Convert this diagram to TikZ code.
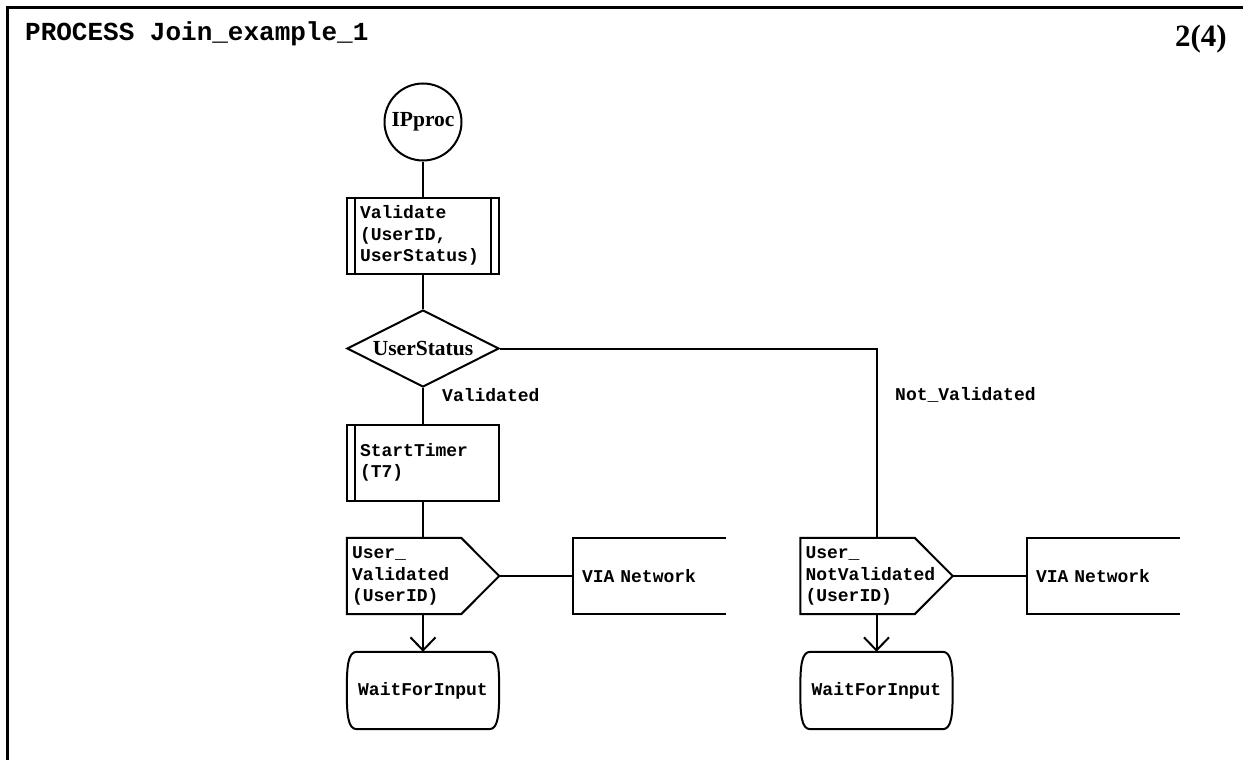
\documentclass[tikz,border=0pt]{standalone}
\usepackage{fontspec}
\setmonofont{Liberation Mono}
\newfontfamily\symserif{Liberation Serif}
\usetikzlibrary{shapes.geometric,arrows.meta,calc}

% Outline of an SDL output (send signal) symbol: body plus pointed east side
\newcommand\sdloutput[1]{%
  \draw[sdl] (#1.north west) -- ($(#1.north east)+(-38pt,0)$) -- (#1.east)
    -- ($(#1.south east)+(-38pt,0)$) -- (#1.south west) -- cycle;}
% Open-ended box for the signal destination (no right side)
\newcommand\sdlvia[1]{%
  \draw[sdl] (#1.north east) -- (#1.north west) -- (#1.south west) -- (#1.south east);}
% SDL state symbol: straight top/bottom, bowed sides
\newcommand\sdlstate[1]{%
  \draw[sdl] ($(#1.north west)+(10pt,0)$) -- ($(#1.north east)+(-10pt,0)$)
    .. controls ($(#1.north east)+(-1pt,0)$) and ($(#1.east)+(0,24pt)$) .. (#1.east)
    .. controls ($(#1.east)+(0,-24pt)$) and ($(#1.south east)+(-1pt,0)$) .. ($(#1.south east)+(-10pt,0)$)
    -- ($(#1.south west)+(10pt,0)$)
    .. controls ($(#1.south west)+(1pt,0)$) and ($(#1.west)+(0,-24pt)$) .. (#1.west)
    .. controls ($(#1.west)+(0,24pt)$) and ($(#1.north west)+(1pt,0)$) .. ($(#1.north west)+(10pt,0)$);}

\tikzset{
  sdl/.style={line width=2pt, line join=miter},
  monotxt/.style={font=\fontsize{18}{21.5}\selectfont\ttfamily\bfseries},
  symtxt/.style={font=\symserif\bfseries\fontsize{21.5}{24}\selectfont},
  procbox/.style={draw, sdl, rectangle, monotxt, align=left, text width=126pt,
    inner xsep=13pt, inner ysep=0pt, minimum height=76pt},
  leftbar/.style={path picture={\draw[sdl]
    ([xshift=8pt]path picture bounding box.north west) --
    ([xshift=8pt]path picture bounding box.south west);}},
  rightbar/.style={path picture={\draw[sdl]
    ([xshift=8pt]path picture bounding box.north west) --
    ([xshift=8pt]path picture bounding box.south west);
    \draw[sdl]
    ([xshift=-8pt]path picture bounding box.north east) --
    ([xshift=-8pt]path picture bounding box.south east);}},
  outsym/.style={rectangle, monotxt, align=left, text width=142pt,
    inner xsep=5pt, inner ysep=0pt, minimum height=76pt},
  viasym/.style={rectangle, monotxt, align=left, text width=135pt,
    inner xsep=9pt, inner ysep=0pt, minimum height=76pt},
  statesym/.style={rectangle, monotxt, minimum width=152pt, minimum height=77pt, inner sep=0pt},
  decision/.style={draw, sdl, diamond, aspect=2, symtxt, minimum width=152pt,
    minimum height=77pt, inner sep=0pt},
  startsym/.style={draw, sdl, circle, symtxt, minimum size=77pt, inner sep=0pt},
  flow/.style={sdl},
  arrowflow/.style={sdl, -{Straight Barb[length=13pt,width=25pt]}},
  answer/.style={monotxt, inner sep=0pt, anchor=base west},
}

\begin{document}
\begin{tikzpicture}[x=1pt, y=-1pt]
  \useasboundingbox (0,0) rectangle (1243,760);

  % page frame
  \draw[line width=3pt] (7,760) -- (7,8) -- (1243,8);

  \node[font=\fontsize{26}{30}\selectfont\ttfamily\bfseries, inner sep=0pt, anchor=base west]
    (title) at (25,41) {PROCESS Join\_example\_1};
  \node[font=\symserif\bfseries\fontsize{31}{34}\selectfont, inner sep=0pt, anchor=base east]
    (page) at (1227,47) {2(4)};

  % main column
  \node[startsym] (ip) at (423,122) {IPproc};
  \node[procbox, rightbar] (val) at (423,235.5) {Validate\\(UserID,\\UserStatus)};
  \node[decision] (dec) at (423,348.5) {UserStatus};
  \node[procbox, leftbar] (tim) at (423,462.5) {StartTimer\\(T7)};
  \node[outsym] (out1) at (423,576) {User\_\\Validated\\(UserID)};
  \node[viasym] (via1) at (649.5,576) {VIA Network};
  \node[statesym] (wait1) at (423,690.5) {WaitForInput};

  % right column
  \node[outsym] (out2) at (876.5,576) {User\_\\NotValidated\\(UserID)};
  \node[viasym] (via2) at (1103.5,576) {VIA Network};
  \node[statesym] (wait2) at (876.5,690.5) {WaitForInput};

  % symbol outlines
  \sdloutput{out1}
  \sdloutput{out2}
  \sdlvia{via1}
  \sdlvia{via2}
  \sdlstate{wait1}
  \sdlstate{wait2}

  % flow lines
  \draw[flow] (ip) -- (val);
  \draw[flow] (val) -- (dec);
  \draw[flow] (dec) -- (tim);
  \draw[flow] (tim) -- (out1);
  \draw[flow] (out1.east) -- (via1.west);
  \draw[arrowflow] (out1.south) -- (wait1.north);
  \draw[flow] (dec.east) -| (out2.north);
  \draw[flow] (out2.east) -- (via2.west);
  \draw[arrowflow] (out2.south) -- (wait2.north);

  % decision answers
  \node[answer] (ansyes) at (442,401) {Validated};
  \node[answer] (ansno) at (895,400) {Not\_Validated};
\end{tikzpicture}
\end{document}
